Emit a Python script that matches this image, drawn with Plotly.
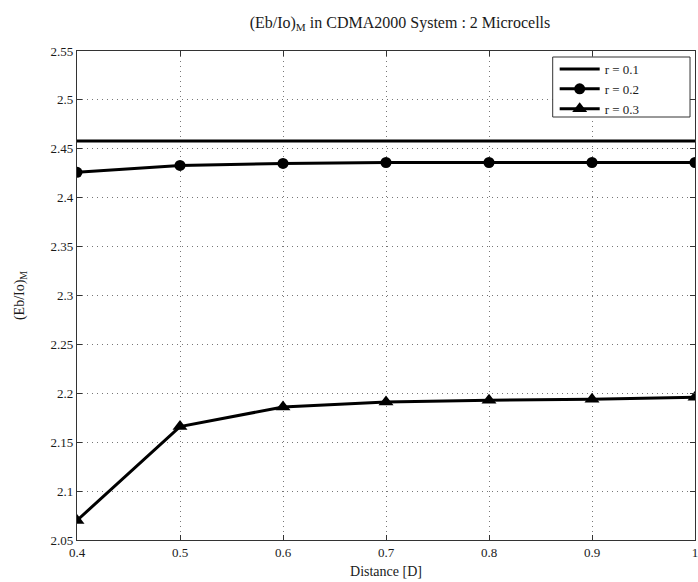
import plotly.graph_objects as go

# Distance values along the cell axis
distance = [0.4, 0.5, 0.6, 0.7, 0.8, 0.9, 1.0]

# (Eb/Io)_M for each r
eb_io_r01 = [2.458, 2.458, 2.458, 2.458, 2.458, 2.458, 2.458]
eb_io_r02 = [2.426, 2.433, 2.435, 2.436, 2.436, 2.436, 2.436]
eb_io_r03 = [2.070, 2.166, 2.186, 2.191, 2.193, 2.194, 2.196]

series_names = ["r = 0.1", "r = 0.2", "r = 0.3"]

x_tick_vals = [0.4, 0.5, 0.6, 0.7, 0.8, 0.9, 1.0]
x_tick_text = ["0.4", "0.5", "0.6", "0.7", "0.8", "0.9", "1"]
y_tick_vals = [2.05, 2.1, 2.15, 2.2, 2.25, 2.3, 2.35, 2.4, 2.45, 2.5, 2.55]
y_tick_text = ["2.05", "2.1", "2.15", "2.2", "2.25", "2.3", "2.35", "2.4", "2.45", "2.5", "2.55"]

serif = "Liberation Serif, Times New Roman, serif"
ink = "#1a1a1a"

fig = go.Figure()
fig.add_trace(go.Scatter(x=distance, y=eb_io_r01, name=series_names[0], mode="lines",
                         line=dict(color="black", width=3)))
fig.add_trace(go.Scatter(x=distance, y=eb_io_r02, name=series_names[1], mode="lines+markers",
                         line=dict(color="black", width=3),
                         marker=dict(symbol="circle", size=11, color="black")))
fig.add_trace(go.Scatter(x=distance, y=eb_io_r03, name=series_names[2], mode="lines+markers",
                         line=dict(color="black", width=3),
                         marker=dict(symbol="triangle-up", size=13, color="black")))

axis_common = dict(
    showline=True, linecolor="#333", linewidth=1.2, mirror="ticks",
    ticks="inside", ticklen=5, tickcolor="#333",
    showgrid=True, gridcolor="#777", griddash="1px,4px", gridwidth=1,
    zeroline=False,
    tickfont=dict(family=serif, size=13, color=ink),
)

fig.update_xaxes(range=[0.4, 1.0], tickvals=x_tick_vals, ticktext=x_tick_text,
                 ticklabeloverflow="allow",
                 title=dict(text="Distance [D]", font=dict(family=serif, size=14, color=ink),
                            standoff=7),
                 **axis_common)
fig.update_yaxes(range=[2.05, 2.55], tickvals=y_tick_vals, ticktext=y_tick_text,
                 title=dict(text="(Eb/Io)<sub>M</sub>", font=dict(family=serif, size=14, color=ink),
                            standoff=22),
                 **axis_common)

# Legend frame
fig.add_shape(type="rect", xref="paper", yref="paper",
              x0=(555 - 77) / 621, x1=(693 - 77) / 621,
              y0=(540 - 117) / 489, y1=(540 - 57) / 489,
              line=dict(color="#333", width=1), fillcolor="white", layer="above")

fig.update_layout(
    width=698, height=582,
    margin=dict(l=77, r=0, t=51, b=42),
    paper_bgcolor="white", plot_bgcolor="white",
    title=dict(text="(Eb/Io)<sub>M</sub> in CDMA2000 System : 2 Microcells",
               font=dict(family=serif, size=16, color=ink),
               x=0.573, xanchor="center", y=0.962, yanchor="middle"),
    legend=dict(x=(557 - 77) / 621, y=(540 - 54) / 489, xanchor="left", yanchor="top",
                bgcolor="rgba(0,0,0,0)", borderwidth=0,
                font=dict(family=serif, size=13, color=ink),
                itemwidth=40, tracegroupgap=0),
    showlegend=True,
)

fig.write_html("out.html")
